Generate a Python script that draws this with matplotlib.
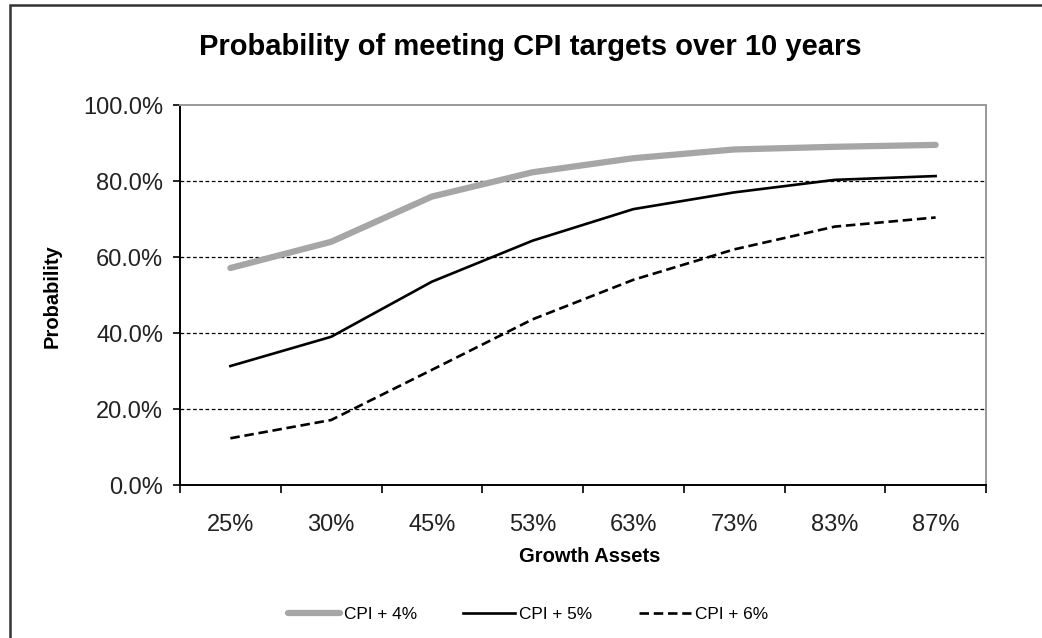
import matplotlib
matplotlib.use("Agg")
import matplotlib.pyplot as plt
from matplotlib.patches import Rectangle
from matplotlib.ticker import FuncFormatter, FixedLocator
from matplotlib.lines import Line2D

plt.rcParams['font.family'] = ['Liberation Sans', 'DejaVu Sans']

categories = ["25%", "30%", "45%", "53%", "63%", "73%", "83%", "87%"]
cpi4 = [57.1, 64.0, 75.9, 82.3, 86.0, 88.3, 89.0, 89.5]
cpi5 = [31.3, 39.0, 53.5, 64.3, 72.6, 77.0, 80.3, 81.3]
cpi6 = [12.3, 17.1, 30.3, 43.6, 54.0, 62.0, 68.0, 70.4]
series_names = ["CPI + 4%", "CPI + 5%", "CPI + 6%"]
y_ticks = [0, 20, 40, 60, 80, 100]

W, H = 1042, 638
fig = plt.figure(figsize=(W / 100, H / 100), dpi=100)
fig.patch.set_facecolor("white")

# outer chart border
fig.patches.append(Rectangle((10 / W, -0.05), 1.2, 1 - 5.5 / H + 0.05,
                             transform=fig.transFigure, fill=False,
                             edgecolor="#333333", linewidth=1.8, zorder=0))

left, right, top, bottom = 180, 986, 105, 485
aw, ah = right - left, bottom - top
ax = fig.add_axes([left / W, 1 - bottom / H, aw / W, ah / H])

dash6 = (0, (3.6, 1.8))
x = list(range(len(categories)))
ax.plot(x, cpi4, color="#A6A6A6", linewidth=4.5, solid_capstyle="round", zorder=3)
ax.plot(x, cpi5, color="black", linewidth=1.9, zorder=3)
ax.plot(x, cpi6, color="black", linewidth=1.9, linestyle=dash6, zorder=3)

ax.set_xlim(-0.5, len(categories) - 0.5)
ax.set_ylim(0, 100)

# y axis
ax.yaxis.set_major_locator(FixedLocator(y_ticks))
ax.yaxis.set_major_formatter(FuncFormatter(lambda v, p: f"{v:.1f}%"))
for yv in y_ticks[1:-1]:
    ax.axhline(yv, color="black", linewidth=0.9, linestyle=(0, (3, 2)), zorder=1)

# x axis ticks at category boundaries, labels at centers
ax.set_xticks([i - 0.5 for i in range(len(categories) + 1)])
ax.set_xticklabels([])
ax.set_xticks(x, minor=True)
ax.set_xticklabels(categories, minor=True)
ax.tick_params(axis="x", which="minor", length=0, pad=21, labelsize=17, labelcolor="#222222")
ax.tick_params(axis="x", which="major", length=6, width=1.2, direction="out", color="black")
ax.tick_params(axis="y", length=5, width=1.2, direction="out", pad=7, labelsize=17,
               labelcolor="#222222")

for s in ["left", "bottom"]:
    ax.spines[s].set_color("black")
    ax.spines[s].set_linewidth(1.4)
for s in ["top", "right"]:
    ax.spines[s].set_color("#999999")
    ax.spines[s].set_linewidth(1.4)

ax.set_ylabel("Probability", fontsize=14.5, fontweight="bold")
ax.set_xlabel("Growth Assets", fontsize=14.5, fontweight="bold")
ax.yaxis.set_label_coords((52 - left) / aw, (bottom - 296) / ah)
ax.yaxis.label.set_va("center")
ax.xaxis.set_label_coords((590 - left) / aw, -(556 - bottom) / ah)
ax.xaxis.label.set_va("center")

fig.text(530 / W, 1 - 47 / H, "Probability of meeting CPI targets over 10 years",
         ha="center", va="center", fontsize=21, fontweight="bold")

handles = [Line2D([], [], color="#A6A6A6", linewidth=4.5, solid_capstyle="round"),
           Line2D([], [], color="black", linewidth=1.9),
           Line2D([], [], color="black", linewidth=1.9, linestyle=dash6)]
fig.legend(handles, series_names, loc="center", bbox_to_anchor=(528 / W, 1 - 614 / H),
           ncol=3, frameon=False, fontsize=12.4, handlelength=3.0, handletextpad=0.25,
           columnspacing=2.7)

fig.savefig("out.png", dpi=100, facecolor="white")
